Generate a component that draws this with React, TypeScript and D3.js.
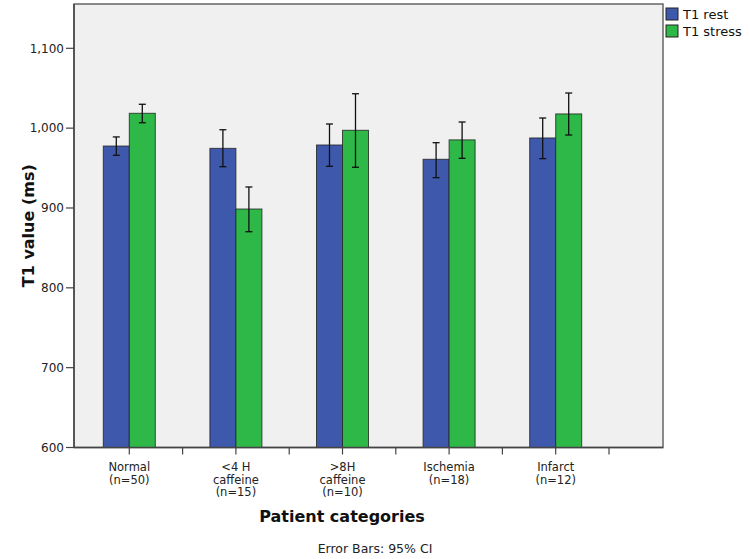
import React from "react";
import * as d3 from "d3";

const categories = ["Normal|(n=50)", "<4 H|caffeine|(n=15)", ">8H|caffeine|(n=10)", "Ischemia|(n=18)", "Infarct|(n=12)"];
const seriesNames = ["T1 rest", "T1 stress"];
const restMean = [977.6, 974.7, 978.9, 961, 987.7];
const restLow = [966, 951.7, 952.2, 938, 961.8];
const restHigh = [989, 998, 1005.2, 981.8, 1012.7];
const stressMean = [1018.6, 898.7, 997.3, 985.3, 1017.8];
const stressLow = [1006.8, 870.3, 951, 962.2, 991.4];
const stressHigh = [1029.9, 926.3, 1043.1, 1007.7, 1044];
const yTicks = [600, 700, 800, 900, 1000, 1100];
const colors = ["#3E58AC", "#2EB848"];

export default function App() {
  const W = 750, H = 559;
  const left = 74, right = 663, top = 4, bottom = 447.5;
  const bandStart = 76, step = 106.6;
  const x = d3.scaleBand<number>().domain(d3.range(5)).range([bandStart, bandStart + step * 5]).padding(0);
  const y = d3.scaleLinear().domain([600, 1155.5]).range([bottom, top]);
  const barW = 26;
  const fmt = d3.format(",");
  const font = "'DejaVu Sans', sans-serif";

  const series = [
    { mean: restMean, low: restLow, high: restHigh },
    { mean: stressMean, low: stressLow, high: stressHigh },
  ];

  return (
    <svg width={W} height={H} style={{ position: "absolute", left: 0, top: 0 }} fontFamily={font}>
      <rect x={left} y={top} width={right - left} height={bottom - top} fill="#F0F0F0" stroke="#666" strokeWidth={1.5} />
      {series.map((s, si) =>
        s.mean.map((v, i) => {
          const cx = x(i)! + x.bandwidth() / 2;
          const bx = si === 0 ? cx - barW : cx;
          return (
            <rect key={`b${si}-${i}`} x={bx} y={y(v)} width={barW} height={bottom - y(v)} fill={colors[si]} stroke="#222" strokeWidth={1} strokeOpacity={0.8} />
          );
        })
      )}
      {series.map((s, si) =>
        s.mean.map((_, i) => {
          const cx = x(i)! + x.bandwidth() / 2;
          const ex = si === 0 ? cx - barW / 2 : cx + barW / 2;
          return (
            <g key={`e${si}-${i}`} stroke="#111" strokeWidth={1.3}>
              <line x1={ex} x2={ex} y1={y(s.low[i])} y2={y(s.high[i])} />
              <line x1={ex - 3.5} x2={ex + 3.5} y1={y(s.low[i])} y2={y(s.low[i])} />
              <line x1={ex - 3.5} x2={ex + 3.5} y1={y(s.high[i])} y2={y(s.high[i])} />
            </g>
          );
        })
      )}
      <line x1={left} x2={right} y1={bottom} y2={bottom} stroke="#444" strokeWidth={1.5} />
      <line x1={left} x2={left} y1={top} y2={bottom} stroke="#444" strokeWidth={1.5} />
      {yTicks.map((t) => (
        <g key={t}>
          <line x1={left - 8} x2={left} y1={y(t)} y2={y(t)} stroke="#444" strokeWidth={1.2} />
          <text x={left - 10} y={y(t)} dy="0.35em" textAnchor="end" fontSize={12} fill="#222">{fmt(t)}</text>
        </g>
      ))}
      {d3.range(1, 11).map((k) => (
        <line key={k} x1={bandStart + (k * step) / 2} x2={bandStart + (k * step) / 2} y1={bottom} y2={bottom + 7} stroke="#444" strokeWidth={1.2} />
      ))}
      {categories.map((c, i) => {
        const cx = x(i)! + x.bandwidth() / 2;
        return (
          <text key={c} x={cx} y={471} textAnchor="middle" fontSize={11.5} fill="#222">
            {c.split("|").map((ln, j) => (
              <tspan key={j} x={cx} dy={j === 0 ? 0 : 12.5}>{ln}</tspan>
            ))}
          </text>
        );
      })}
      <text transform={`translate(34,${(top + bottom) / 2}) rotate(-90)`} textAnchor="middle" fontSize={16} fontWeight="bold" fill="#111">T1 value (ms)</text>
      <text x={342} y={522} textAnchor="middle" fontSize={16} fontWeight="bold" fill="#111">Patient categories</text>
      <text x={375} y={553} textAnchor="middle" fontSize={12.5} fill="#222">Error Bars: 95% CI</text>
      {seriesNames.map((n, i) => (
        <g key={n}>
          <rect x={666} y={8 + i * 17} width={12} height={12} fill={colors[i]} stroke="#222" strokeWidth={1} />
          <text x={683} y={14 + i * 17} dy="0.35em" fontSize={13} fill="#111">{n}</text>
        </g>
      ))}
    </svg>
  );
}
